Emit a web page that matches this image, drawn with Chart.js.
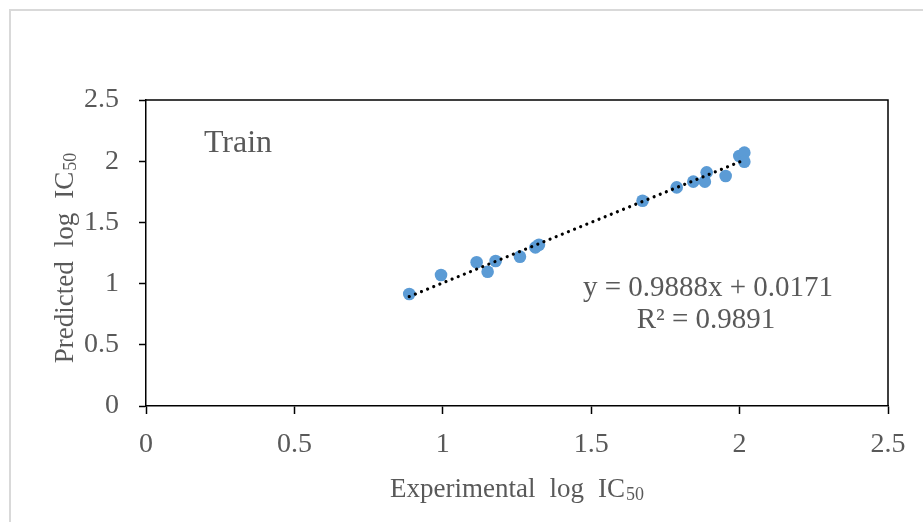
<!DOCTYPE html>
<html>
<head>
<meta charset="utf-8">
<script src="https://cdn.jsdelivr.net/npm/chart.js@4.4.1/dist/chart.umd.min.js"></script>
<style>
  html,body{margin:0;padding:0;background:#fff}
  #wrap{position:relative;width:923px;height:522px}
</style>
</head>
<body>
<div id="wrap"><canvas id="chart" width="923" height="522"></canvas></div>
<script>
// values
const expLogIC50  = [0.887, 0.994, 1.114, 1.151, 1.178, 1.260, 1.312, 1.324, 1.673, 1.788, 1.844, 1.883, 1.889, 1.953, 1.999, 2.016, 2.016]
const predLogIC50 = [0.915, 1.070, 1.174, 1.097, 1.185, 1.220, 1.296, 1.318, 1.677, 1.786, 1.833, 1.833, 1.909, 1.879, 2.042, 2.070, 1.996]
// linear trendline ends (y = 0.9888x + 0.0171 over the data range)
const fitX = [0.887, 2.016]
const fitY = [0.894, 2.010]
const eqLine = 'y = 0.9888x + 0.0171'
const r2Line = 'R² = 0.9891'
const setLabel = 'Train'

const FONT = '"Liberation Serif", "Times New Roman", serif'
const GRAY = '#595959'

// draws words centred on x=0 (baseline 0) with a trailing subscript
function drawWords(ctx, words, sub, size, gap) {
  ctx.font = `${size}px ${FONT}`
  const ws = words.map(w => ctx.measureText(w).width)
  ctx.font = `${Math.round(size*0.68)}px ${FONT}`
  const sw = ctx.measureText(sub).width
  const total = ws.reduce((a,b)=>a+b,0) + gap*(words.length-1) + sw + 1
  let x = -total/2
  ctx.font = `${size}px ${FONT}`
  words.forEach((w,i)=>{ ctx.fillText(w, x, 0); x += ws[i] + (i<words.length-1?gap:1) })
  ctx.font = `${Math.round(size*0.68)}px ${FONT}`
  ctx.fillText(sub, x, 3)
}

const decor = {
  id:'decor',
  beforeDraw(chart) {
    const ctx = chart.ctx
    ctx.save()
    ctx.strokeStyle = '#D9D9D9'; ctx.lineWidth = 2
    ctx.beginPath(); ctx.moveTo(10, 522); ctx.lineTo(10, 10); ctx.lineTo(923, 10); ctx.stroke()
    ctx.restore()
  },
  afterDraw(chart) {
    const ctx = chart.ctx, a = chart.chartArea
    ctx.save()
    // top + right frame of plot area
    ctx.strokeStyle = '#000'; ctx.lineWidth = 1.5
    ctx.beginPath(); ctx.moveTo(a.left, a.top); ctx.lineTo(a.right, a.top); ctx.lineTo(a.right, a.bottom); ctx.stroke()

    ctx.fillStyle = GRAY
    ctx.textBaseline = 'alphabetic'; ctx.textAlign = 'left'
    // axis titles
    ctx.save(); ctx.translate((a.left+a.right)/2, 497)
    drawWords(ctx, ['Experimental','log','IC'], '50', 27, 14)
    ctx.restore()
    ctx.save(); ctx.translate(73, (a.top+a.bottom)/2 + 5); ctx.rotate(-Math.PI/2)
    drawWords(ctx, ['Predicted','log','IC'], '50', 27, 14)
    ctx.restore()

    // labels inside plot
    ctx.textAlign = 'center'
    ctx.font = `32px ${FONT}`
    ctx.fillText(setLabel, 238, 152)
    ctx.font = `29px ${FONT}`
    ctx.fillText(eqLine, 708, 296)
    ctx.fillText(r2Line, 706, 328)
    ctx.restore()
  }
}

const tickFont = { family: FONT, size: 28 }
const fmt = v => String(+v.toFixed(2))

new Chart(document.getElementById('chart'), {
  type: 'scatter',
  data: {
    datasets: [
      { label:'Linear (Train)', type:'line', order:0,
        data: fitX.map((x,i)=>({x, y:fitY[i]})),
        borderColor:'#000', borderWidth:3.2, borderDash:[0.01, 6.6], borderCapStyle:'round',
        pointRadius:0, fill:false, tension:0 },
      { label:'Train', order:1,
        data: expLogIC50.map((x,i)=>({x, y:predLogIC50[i]})),
        backgroundColor:'#5B9BD5', borderColor:'#5B9BD5', pointRadius:6.3, pointHoverRadius:6.3, borderWidth:0 }
    ]
  },
  options: {
    responsive:false, animation:false,
    layout:{ padding:{ top:100, right:35, left:0, bottom:0 } },
    plugins:{ legend:{display:false}, tooltip:{enabled:false} },
    scales:{
      x:{ type:'linear', min:0, max:2.5,
        ticks:{ stepSize:0.5, color:GRAY, font:tickFont, padding:14, maxRotation:0, callback:fmt },
        grid:{ drawOnChartArea:false, drawTicks:true, tickLength:8, tickColor:'#000', tickWidth:1.5 },
        border:{ display:true, color:'#000', width:1.5 },
        afterFit(s){ s.height = 522 - 406 }
      },
      y:{ type:'linear', min:0, max:2.5,
        ticks:{ stepSize:0.5, color:GRAY, font:tickFont, padding:20, callback:fmt },
        grid:{ drawOnChartArea:false, drawTicks:true, tickLength:7, tickColor:'#000', tickWidth:1.5 },
        border:{ display:true, color:'#000', width:1.5 },
        afterFit(s){ s.width = 146 }
      }
    }
  },
  plugins:[decor]
})
</script>
</body>
</html>
